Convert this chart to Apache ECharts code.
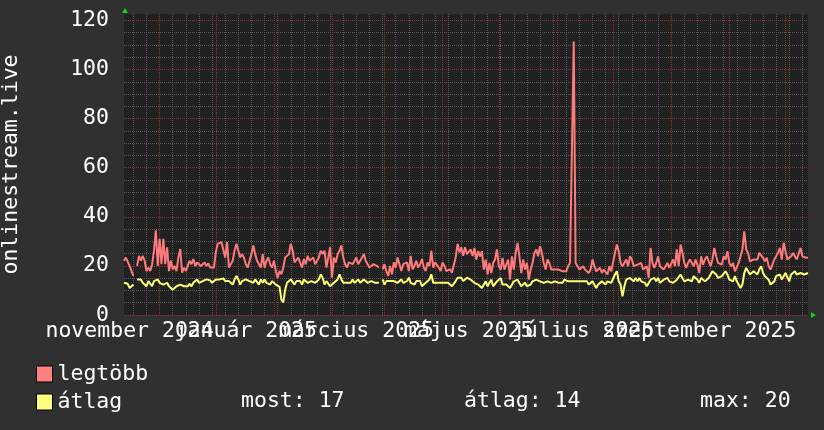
<!DOCTYPE html>
<html><head><meta charset="utf-8">
<script src="https://cdn.jsdelivr.net/npm/echarts@6/dist/echarts.min.js"></script>
<style>html,body{margin:0;padding:0;background:#303030;} #c{width:824px;height:430px;}</style>
</head><body><div id="c"></div>
<script>
// ---- data ----
const startDate = '2024-10-13';
const seriesNames = ['legtöbb', 'átlag'];
const yAxisTitle = 'onlinestream.live';
const tickLabels = ['november 2024', 'január 2025', 'március 2025', 'május 2025', 'július 2025', 'szeptember 2025'];
const tickLabelDates = ['2024-10-16', '2024-12-17', '2025-02-14', '2025-04-15', '2025-06-15', '2025-08-16'];
const statNames = ['most', 'átlag', 'max'];
const statValues = [17, 14, 20];

const maxValues = [
22.1,23.4,22.8,20,17.9,15.9,null,20,24.1,22.1,
24.1,22.1,17.9,19.3,17.9,20.7,26.2,34.5,20,31,
20.7,31,20.7,27.6,17.9,22.1,18.6,20,17.9,23.4,
26.9,17.2,19.3,17.9,20,22.1,20.7,22.8,20,21.4,
22.1,20,19.6,21.4,20,21,19.3,20,19.3,25.5,
29,29,29.7,29,23.4,29.7,19.3,20.7,22.1,26.2,
29,26.2,23.4,24.8,23.4,20.7,19.3,20,24.8,28.3,
24.8,22.1,20.7,19.3,24.8,19.3,22.1,23.4,20.7,19.3,
22.1,17.9,15.2,17.9,16.6,19.3,23.4,22.8,24.8,29,
26.2,21.4,22.1,23.4,21.4,19.3,22.8,20.7,24.1,22.1,
21.4,23.4,20.7,21.4,23.4,26.2,24.8,26.2,19.3,23.4,
27.6,15.2,23.4,21.4,24.8,26.2,28.3,23.4,20.7,19.3,
21.4,22.1,20.7,20,23.4,20.7,21.4,23.4,24.8,22.1,
20.7,19.3,18.6,20.7,20,20,19.3,null,18.6,20.7,
17.9,15.9,20,16.6,21.4,19.3,23.4,20.7,17.9,20.7,
20,21.4,17.9,24.1,18.6,20,22.1,19.3,20.7,22.8,
19.3,17.9,21.4,20,26.2,19.3,21.4,20.7,19.3,17.9,
21.4,20,17.9,17.9,18.6,17.2,17.9,23.4,29,25.5,
27.6,24.1,27.6,24.8,24.8,26.7,24,27.3,22.6,26,
23.9,26,18.5,22.6,16.5,21.2,17.1,21.2,22.6,26.7,
19.9,18.5,23.3,18.5,17.8,22.6,14.4,23.9,18.5,25.3,
29.4,23.9,17.1,22.6,18.5,21.2,14.4,18.5,21.2,25.3,
26.7,23.9,28,25.3,21.2,18.5,22.6,21.2,18.5,17.8,
18.5,17.8,18.5,18.5,17.8,18.5,17.8,19.9,21.2,21.2,
111.4,21.2,20.5,18.5,19.2,19.9,18.5,19.2,17.1,18.5,
22.6,19.9,17.8,18.5,19.2,17.1,18.5,17.8,16.5,19.9,
17.8,17.8,25.3,28.7,26,21.2,19.9,19.9,22.6,19.9,
23.9,22.6,19.9,19.2,20.5,19.9,21.2,18.5,19.2,19.9,
15.1,27.3,21.2,19.2,21.2,23.9,19.9,20.5,18.5,19.9,
21.2,19.2,19.9,22.6,19.9,26.7,19.9,28.7,25.3,21.2,
19.2,21.2,22.6,21.2,19.9,22.6,20.5,17.1,23.9,20.5,
22.6,23.9,21.9,19.9,22.6,27.3,23.9,21.2,21.9,20.5,
23.9,22.6,26,21.2,19.9,21.2,17.8,18.5,21.2,23.9,
26.7,34.1,26.7,25.3,21.9,22.6,22.6,21.9,22.6,25.3,
26,23.3,21.9,23.3,19.9,18.5,17.8,22.6,23.9,25.3,
27.3,22.6,29.4,26,22.6,22.6,23.9,25.3,23.9,22.6,
23.3,27.3,23.9,23.3,23.3,23.3
];

const avgValues = [
13.1,12.4,12.7,11,11.7,12.4,null,14.5,14.9,14.5,
13.1,12.4,11.7,13.8,13.1,11.7,13.8,13.1,14.5,13.1,
12.4,12.4,13.1,13.1,11.7,11.7,10.3,11,11.7,11.7,
12.4,12,11.7,12.4,11.7,12.7,11.7,13.1,13.8,14.5,
13.1,13.8,13.8,13.8,14.5,13.8,14.1,13.1,13.8,14.5,
13.8,14.5,14.5,14.9,13.8,13.1,13.8,14.5,12.4,14.5,
15.9,14.5,12.4,13.8,13.1,14.5,13.8,13.8,13.8,13.1,
14.5,13.8,12.4,14.5,13.1,14.5,13.1,13.8,12.4,13.8,
13.1,12.4,11.7,11.5,6.2,5.1,10.3,13.1,12.4,14.5,
15.2,12.4,13.8,13.1,13.8,12.4,14.5,13.8,13.1,13.1,
13.8,13.8,13.1,13.8,14.5,16.6,15.2,12.4,13.8,13.1,
11.7,11.7,13.1,12.4,14.5,16.6,14.5,13.1,13.8,13.1,
13.8,13.1,14.5,13.1,13.8,14.5,13.1,13.1,14.5,13.8,
13.1,13.1,13.8,14.5,13.1,13.8,13.1,null,14.5,12.4,
13.8,13.1,13.8,13.1,13.8,14.5,13.1,13.8,14.5,13.1,
13.8,13.8,15.2,13.1,13.1,12.4,13.8,13.1,13.8,11.7,
12.4,13.1,13.1,14.5,16.6,13.1,13.8,13.1,13.8,13.1,
13.8,13.1,12.4,13.1,12.4,11.7,11,13.8,15.2,14.5,
15.2,13.8,14.5,15.2,14.5,14.4,15.1,13.1,13.7,12.4,
13.1,11,11.7,13.7,11.7,13.1,14.4,11.7,12.4,13.7,
13.1,15.1,12.4,11.7,12.4,13.1,11,11.7,13.7,13.1,
14.4,13.7,11.7,12.4,13.1,11.7,11,12.4,13.7,13.1,
14.4,15.1,13.7,14.4,13.1,12.4,13.7,13.7,13.1,12.4,
13.7,14.4,13.1,13.7,13.1,14.4,13.7,13.7,14.4,13.7,
14.4,13.7,13.1,13.7,13.1,13.7,13.1,13.7,12.4,13.1,
13.7,13.1,11,12.4,13.1,13.7,13.1,12.4,13.7,13.7,
13.1,13.7,16.5,17.8,13.7,12.4,7.6,11.7,14.4,13.7,
15.1,14.4,13.7,15.1,13.7,15.1,13.7,14.4,13.1,11.7,
11,14.4,14.4,15.1,13.7,15.1,13.1,13.7,14.4,13.7,
15.1,13.7,14.4,13.1,12.4,14.4,15.1,16.5,15.1,13.7,
13.1,14.4,15.1,13.7,15.8,15.1,14.4,13.1,15.1,14.4,
13.7,14.4,15.1,15.8,17.8,17.1,16.5,15.1,14.4,15.8,
16.5,17.8,16.5,14.4,15.1,13.7,15.8,13.7,12.4,11,
12.4,17.1,19.2,17.8,16.5,17.1,17.8,17.1,16.5,18.5,
19.9,17.1,15.8,16.5,14.4,12.4,11.7,13.7,15.8,16.5,
16.5,14.4,15.8,17.1,17.8,13.7,16.5,17.1,17.8,16.5,
15.8,17.1,16.5,16.5,17.1,17.1
];

// ---- categories (one per day) ----
const dates = [];
(function () {
  const d0 = new Date(startDate + 'T00:00:00Z').getTime();
  for (let i = 0; i < maxValues.length; i++) {
    dates.push(new Date(d0 + i * 86400000).toISOString().slice(0, 10));
  }
})();

// ---- styling ----
const FONT = 'DejaVu Sans Mono';
const FS = 21.5;
const C_BG = '#303030', C_PLOT = '#212121';
const C_MINOR = '#575757', C_MAJOR = '#8a3232';
const C_MAX = '#ff7a7a', C_AVG = '#ffff73';
const C_ARROW = '#16d016';

const chart = echarts.init(document.getElementById('c'), null, { renderer: 'canvas' });
const isFriday = (i, v) => new Date(v + 'T00:00:00Z').getUTCDay() === 5;
const isMonthStart = (i, v) => v.slice(8, 10) === '01';
// labels are split over two axes so that overlapping neighbours are both kept
const labelSetA = tickLabelDates.filter((d, k) => k % 2 === 0);
const labelSetB = tickLabelDates.filter((d, k) => k % 2 === 1);
const labelStyle = { color: '#ffffff', fontFamily: FONT, fontSize: FS, margin: 5, hideOverlap: false };
const Y_MAX = 122.6;

chart.setOption({
  backgroundColor: C_BG,
  animation: false,
  grid: {
    left: 124, right: 16, top: 14, bottom: 115, show: true, backgroundColor: C_PLOT, borderWidth: 0,
    containLabel: false, outerBoundsMode: 'none'
  },
  xAxis: [
    { // week axis: grey minor grid
      type: 'category', data: dates, boundaryGap: false,
      axisLine: { show: false }, axisTick: { show: false },
      axisLabel: Object.assign({
        interval: (i, v) => labelSetA.indexOf(v) >= 0,
        formatter: (v) => tickLabels[tickLabelDates.indexOf(v)]
      }, labelStyle),
      splitLine: { show: true, interval: isFriday, lineStyle: { color: C_MINOR, width: 1, type: [1, 1] } }
    },
    { // month axis: red major grid
      type: 'category', data: dates, boundaryGap: false, position: 'bottom',
      axisLine: { show: false }, axisTick: { show: false },
      axisLabel: Object.assign({
        interval: (i, v) => labelSetB.indexOf(v) >= 0,
        formatter: (v) => tickLabels[tickLabelDates.indexOf(v)]
      }, labelStyle),
      splitLine: { show: true, interval: isMonthStart, lineStyle: { color: C_MAJOR, width: 1, type: [1, 1] } }
    }
  ],
  yAxis: [
    { // grid every 5: every 4th line (multiples of 20) is a red major line
      type: 'value', min: 0, max: Y_MAX, interval: 5,
      name: yAxisTitle, nameLocation: 'middle', nameRotate: 90, nameGap: 102,
      nameTextStyle: { color: '#ffffff', fontFamily: FONT, fontSize: FS },
      axisLine: { show: false }, axisTick: { show: false },
      axisLabel: {
        formatter: (v) => (v % 20 === 0 ? String(v) : ''),
        showMaxLabel: false, color: '#ffffff', fontFamily: FONT, fontSize: FS, margin: 15
      },
      splitLine: {
        show: true, showMinLine: true, showMaxLine: false,
        lineStyle: { color: [C_MAJOR, C_MINOR, C_MINOR, C_MINOR], width: 1, type: [1, 1] }
      }
    }
  ],
  legend: {
    orient: 'vertical', left: 31, top: 358, itemWidth: 16, itemHeight: 16, itemGap: 6,
    icon: 'rect', data: seriesNames,
    itemStyle: { borderColor: '#000000', borderWidth: 1 },
    textStyle: { color: '#ffffff', fontFamily: FONT, fontSize: FS }
  },
  series: [
    {
      name: seriesNames[0], type: 'line', data: maxValues, xAxisIndex: 0, yAxisIndex: 0,
      showSymbol: false, symbol: 'none', connectNulls: false,
      lineStyle: { color: C_MAX, width: 2 }, itemStyle: { color: '#ff8080' }, z: 3
    },
    {
      name: seriesNames[1], type: 'line', data: avgValues, xAxisIndex: 0, yAxisIndex: 0,
      showSymbol: false, symbol: 'none', connectNulls: false,
      lineStyle: { color: C_AVG, width: 2 }, itemStyle: { color: '#ffff80' }, z: 3
    }
  ],
  graphic: [
    { type: 'polygon', shape: { points: [[122, 13], [128, 13], [125, 8]] }, style: { fill: C_ARROW }, silent: true },
    { type: 'polygon', shape: { points: [[811, 312], [811, 318], [816, 315]] }, style: { fill: C_ARROW }, silent: true },
    { type: 'text', left: 241, top: 390, style: { text: statNames[0] + ': ' + statValues[0], fill: '#ffffff', font: FS + 'px "' + FONT + '"' } },
    { type: 'text', left: 464, top: 390, style: { text: statNames[1] + ': ' + statValues[1], fill: '#ffffff', font: FS + 'px "' + FONT + '"' } },
    { type: 'text', left: 700, top: 390, style: { text: statNames[2] + ': ' + statValues[2], fill: '#ffffff', font: FS + 'px "' + FONT + '"' } }
  ]
});
</script>
</body></html>
